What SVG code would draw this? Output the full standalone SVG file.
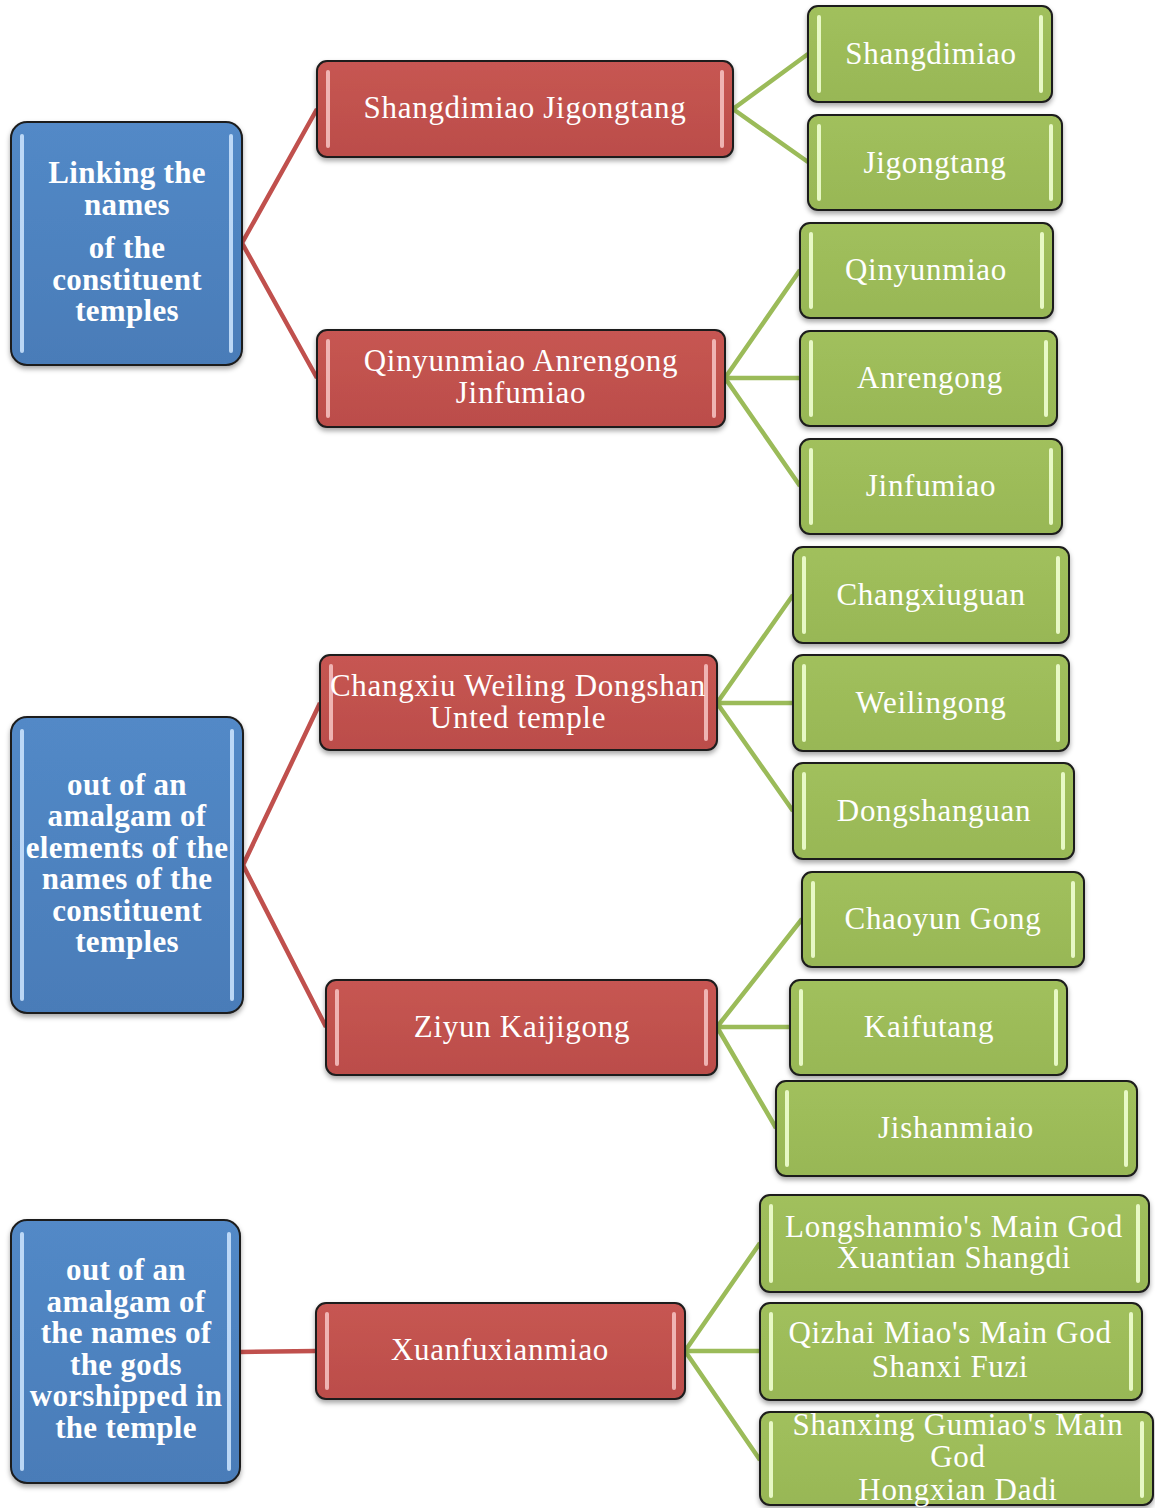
<svg xmlns="http://www.w3.org/2000/svg" width="1155" height="1508" viewBox="0 0 1155 1508">
<defs>
<filter id="sh" x="-10%" y="-10%" width="120%" height="130%">
<feDropShadow dx="0" dy="3" stdDeviation="2.5" flood-color="#000" flood-opacity="0.35"/>
</filter>
<linearGradient id="gb" x1="0" y1="0" x2="0" y2="1">
<stop offset="0" stop-color="#5289c7"/><stop offset="1" stop-color="#4a7cb8"/>
</linearGradient>
<linearGradient id="gr" x1="0" y1="0" x2="0" y2="1">
<stop offset="0" stop-color="#c75652"/><stop offset="1" stop-color="#bb4d4a"/>
</linearGradient>
<linearGradient id="gg" x1="0" y1="0" x2="0" y2="1">
<stop offset="0" stop-color="#a1c05c"/><stop offset="1" stop-color="#98b756"/>
</linearGradient>
</defs>
<style>
.blue{fill:url(#gb);stroke:#1c1c1c;stroke-width:2;filter:url(#sh)}
.red{fill:url(#gr);stroke:#1c1c1c;stroke-width:2;filter:url(#sh)}
.green{fill:url(#gg);stroke:#1c1c1c;stroke-width:2;filter:url(#sh)}
.hb{fill:#cfe6ff;opacity:0.85}
.hr{fill:#f7c6c4;opacity:0.85}
.hg{fill:#f0ffd2;opacity:0.9}
.tb{font-family:"Liberation Serif","Times New Roman",serif;font-weight:bold;font-size:31px;letter-spacing:0.3px;fill:#fff;text-anchor:middle}
.t{font-family:"Liberation Serif","Times New Roman",serif;font-size:31px;letter-spacing:0.7px;fill:#fff;text-anchor:middle}
.lr{stroke:#c0504d;stroke-width:4.5;fill:none}
.lg{stroke:#9bbb59;stroke-width:4.5;fill:none}
</style>

<g id="connectors">
<path class="lr" d="M242,243 L317,109 M242,243 L317,378 M243,865 L320,703 M243,865 L326,1027 M240,1352 L316,1351"/>
<path class="lg" d="M733,109 L808,54 M733,109 L808,162 M725,378 L800,270 M725,378 L800,378 M725,378 L800,486 M717,703 L793,595 M717,703 L793,703 M717,703 L793,811 M717,1027 L802,919 M717,1027 L790,1027 M717,1027 L776,1128 M685,1351 L760,1243 M685,1351 L760,1351 M685,1351 L760,1460"/>
</g>

<g id="b1">
<rect class="blue" x="11" y="122" width="231" height="243" rx="16"/>
<rect class="hb" x="20" y="134" width="4" height="219" rx="2"/>
<rect class="hb" x="229" y="134" width="4" height="219" rx="2"/>
<text class="tb"><tspan x="127" y="183">Linking the</tspan><tspan x="127" y="215">names</tspan><tspan x="127" y="258">of the</tspan><tspan x="127" y="290">constituent</tspan><tspan x="127" y="321">temples</tspan></text>
</g>
<g id="b2">
<rect class="blue" x="11" y="717" width="232" height="296" rx="16"/>
<rect class="hb" x="20" y="729" width="4" height="272" rx="2"/>
<rect class="hb" x="230" y="729" width="4" height="272" rx="2"/>
<text class="tb"><tspan x="127" y="795">out of an</tspan><tspan x="127" y="826">amalgam of</tspan><tspan x="127" y="858">elements of the</tspan><tspan x="127" y="889">names of the</tspan><tspan x="127" y="921">constituent</tspan><tspan x="127" y="952">temples</tspan></text>
</g>
<g id="b3">
<rect class="blue" x="11" y="1220" width="229" height="263" rx="16"/>
<rect class="hb" x="20" y="1232" width="4" height="239" rx="2"/>
<rect class="hb" x="227" y="1232" width="4" height="239" rx="2"/>
<text class="tb"><tspan x="126" y="1280">out of an</tspan><tspan x="126" y="1312">amalgam of</tspan><tspan x="126" y="1343">the names of</tspan><tspan x="126" y="1375">the gods</tspan><tspan x="126" y="1406">worshipped in</tspan><tspan x="126" y="1438">the temple</tspan></text>
</g>

<g id="r1">
<rect class="red" x="317" y="61" width="416" height="96" rx="10"/>
<rect class="hr" x="326" y="70" width="4" height="78" rx="2"/>
<rect class="hr" x="720" y="70" width="4" height="78" rx="2"/>
<text class="t" x="525" y="118">Shangdimiao Jigongtang</text>
</g>
<g id="r2">
<rect class="red" x="317" y="330" width="408" height="97" rx="10"/>
<rect class="hr" x="326" y="339" width="4" height="79" rx="2"/>
<rect class="hr" x="712" y="339" width="4" height="79" rx="2"/>
<text class="t"><tspan x="521" y="371">Qinyunmiao Anrengong</tspan><tspan x="521" y="403">Jinfumiao</tspan></text>
</g>
<g id="r3">
<rect class="red" x="320" y="655" width="397" height="95" rx="10"/>
<rect class="hr" x="329" y="664" width="4" height="77" rx="2"/>
<rect class="hr" x="704" y="664" width="4" height="77" rx="2"/>
<text class="t"><tspan x="518" y="696">Changxiu Weiling Dongshan</tspan><tspan x="518" y="728">Unted temple</tspan></text>
</g>
<g id="r4">
<rect class="red" x="326" y="980" width="391" height="95" rx="10"/>
<rect class="hr" x="335" y="989" width="4" height="77" rx="2"/>
<rect class="hr" x="704" y="989" width="4" height="77" rx="2"/>
<text class="t" x="522" y="1037">Ziyun Kaijigong</text>
</g>
<g id="r5">
<rect class="red" x="316" y="1303" width="369" height="96" rx="10"/>
<rect class="hr" x="325" y="1312" width="4" height="78" rx="2"/>
<rect class="hr" x="672" y="1312" width="4" height="78" rx="2"/>
<text class="t" x="500" y="1360">Xuanfuxianmiao</text>
</g>

<g id="g1">
<rect class="green" x="808" y="6" width="244" height="96" rx="10"/>
<rect class="hg" x="817" y="15" width="4" height="78" rx="2"/>
<rect class="hg" x="1039" y="15" width="4" height="78" rx="2"/>
<text class="t" x="931" y="64">Shangdimiao</text>
</g>
<g id="g2">
<rect class="green" x="808" y="115" width="254" height="95" rx="10"/>
<rect class="hg" x="817" y="124" width="4" height="77" rx="2"/>
<rect class="hg" x="1049" y="124" width="4" height="77" rx="2"/>
<text class="t" x="935" y="173">Jigongtang</text>
</g>
<g id="g3">
<rect class="green" x="800" y="223" width="253" height="95" rx="10"/>
<rect class="hg" x="809" y="232" width="4" height="77" rx="2"/>
<rect class="hg" x="1040" y="232" width="4" height="77" rx="2"/>
<text class="t" x="926" y="280">Qinyunmiao</text>
</g>
<g id="g4">
<rect class="green" x="800" y="331" width="257" height="95" rx="10"/>
<rect class="hg" x="809" y="340" width="4" height="77" rx="2"/>
<rect class="hg" x="1044" y="340" width="4" height="77" rx="2"/>
<text class="t" x="930" y="388">Anrengong</text>
</g>
<g id="g5">
<rect class="green" x="800" y="439" width="262" height="95" rx="10"/>
<rect class="hg" x="809" y="448" width="4" height="77" rx="2"/>
<rect class="hg" x="1049" y="448" width="4" height="77" rx="2"/>
<text class="t" x="931" y="496">Jinfumiao</text>
</g>
<g id="g6">
<rect class="green" x="793" y="547" width="276" height="96" rx="10"/>
<rect class="hg" x="802" y="556" width="4" height="78" rx="2"/>
<rect class="hg" x="1056" y="556" width="4" height="78" rx="2"/>
<text class="t" x="931" y="605">Changxiuguan</text>
</g>
<g id="g7">
<rect class="green" x="793" y="655" width="276" height="96" rx="10"/>
<rect class="hg" x="802" y="664" width="4" height="78" rx="2"/>
<rect class="hg" x="1056" y="664" width="4" height="78" rx="2"/>
<text class="t" x="931" y="713">Weilingong</text>
</g>
<g id="g8">
<rect class="green" x="793" y="763" width="281" height="96" rx="10"/>
<rect class="hg" x="802" y="772" width="4" height="78" rx="2"/>
<rect class="hg" x="1061" y="772" width="4" height="78" rx="2"/>
<text class="t" x="934" y="821">Dongshanguan</text>
</g>
<g id="g9">
<rect class="green" x="802" y="872" width="282" height="95" rx="10"/>
<rect class="hg" x="811" y="881" width="4" height="77" rx="2"/>
<rect class="hg" x="1071" y="881" width="4" height="77" rx="2"/>
<text class="t" x="943" y="929">Chaoyun Gong</text>
</g>
<g id="g10">
<rect class="green" x="790" y="980" width="277" height="95" rx="10"/>
<rect class="hg" x="799" y="989" width="4" height="77" rx="2"/>
<rect class="hg" x="1054" y="989" width="4" height="77" rx="2"/>
<text class="t" x="929" y="1037">Kaifutang</text>
</g>
<g id="g11">
<rect class="green" x="776" y="1081" width="361" height="95" rx="10"/>
<rect class="hg" x="785" y="1090" width="4" height="77" rx="2"/>
<rect class="hg" x="1124" y="1090" width="4" height="77" rx="2"/>
<text class="t" x="956" y="1138">Jishanmiaio</text>
</g>
<g id="g12">
<rect class="green" x="760" y="1195" width="389" height="97" rx="10"/>
<rect class="hg" x="769" y="1204" width="4" height="79" rx="2"/>
<rect class="hg" x="1136" y="1204" width="4" height="79" rx="2"/>
<text class="t"><tspan x="954" y="1237">Longshanmio's Main God</tspan><tspan x="954" y="1268">Xuantian Shangdi</tspan></text>
</g>
<g id="g13">
<rect class="green" x="760" y="1303" width="382" height="97" rx="10"/>
<rect class="hg" x="769" y="1312" width="4" height="79" rx="2"/>
<rect class="hg" x="1129" y="1312" width="4" height="79" rx="2"/>
<text class="t"><tspan x="950" y="1343">Qizhai Miao's Main God</tspan><tspan x="950" y="1377">Shanxi Fuzi</tspan></text>
</g>
<g id="g14">
<rect class="green" x="760" y="1412" width="393" height="93" rx="10"/>
<rect class="hg" x="769" y="1421" width="4" height="77" rx="2"/>
<rect class="hg" x="1140" y="1421" width="4" height="77" rx="2"/>
<text class="t"><tspan x="958" y="1435">Shanxing Gumiao's Main</tspan><tspan x="958" y="1467">God</tspan><tspan x="958" y="1500">Hongxian Dadi</tspan></text>
</g>
</svg>
